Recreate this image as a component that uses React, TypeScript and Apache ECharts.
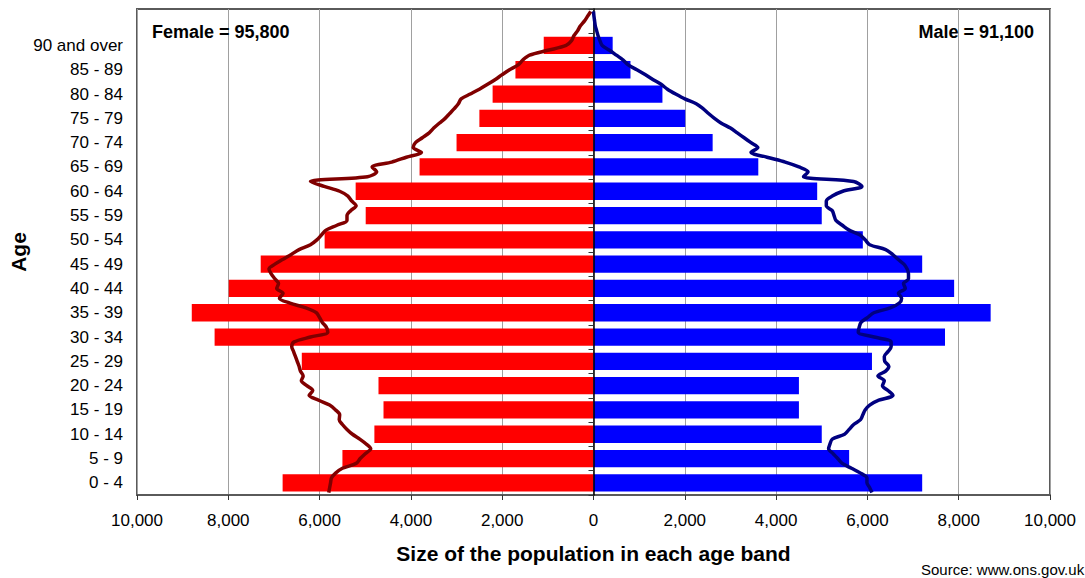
import React, { useEffect, useRef } from "react";
import * as echarts from "echarts";

// Age bands, bottom to top (the top category is an empty spacer row)
const ageBands = [
  "0 - 4", "5 - 9", "10 - 14", "15 - 19", "20 - 24", "25 - 29", "30 - 34",
  "35 - 39", "40 - 44", "45 - 49", "50 - 54", "55 - 59", "60 - 64", "65 - 69",
  "70 - 74", "75 - 79", "80 - 84", "85 - 89", "90 and over", "",
];

// Local population by 5-year band (bottom to top)
const femaleBars = [6810, 5500, 4800, 4600, 4710, 6390, 8300, 8800, 7990, 7290, 5890, 4990, 5210, 3810, 3000, 2500, 2210, 1710, 1090];
const maleBars = [7200, 5600, 5000, 4500, 4500, 6100, 7700, 8700, 7900, 7200, 5900, 5000, 4900, 3610, 2610, 2010, 1510, 810, 420];

// Comparison profile by single year of age 0..99 (female shown on the left)
const femaleLine = [
  -5800, -5780, -5760, -5740, -5650, -5500, -5200, -5110, -5000, -4880,
  -4980, -5120, -5280, -5400, -5500, -5570, -5560, -5650, -5780, -6020,
  -6230, -6150, -6280, -6400, -6360, -6420, -6450, -6490, -6530, -6570,
  -6610, -6560, -6200, -5820, -5850, -5940, -6000, -6070, -6300, -6650,
  -6880, -6800, -6940, -6900, -6980, -7060, -7110, -6980, -6800, -6620,
  -6450, -6200, -6060, -5960, -5860, -5620, -5400, -5400, -5320, -5200,
  -5300, -5380, -5560, -5900, -6200, -4950, -4750, -4850, -4420, -4100,
  -3770, -3950, -3900, -3750, -3600, -3500, -3380, -3250, -3150, -3050,
  -2960, -2900, -2700, -2500, -2320, -2150, -2000, -1840, -1650, -1550,
  -1400, -1000, -600, -480, -430, -350, -290, -200, -130, -60,
];
const maleLine = [
  6100, 6050, 5990, 5990, 5850, 5650, 5450, 5350, 5250, 5150,
  5180, 5230, 5500, 5600, 5700, 5850, 5900, 5950, 6050, 6250,
  6560, 6450, 6330, 6370, 6230, 6400, 6470, 6380, 6370, 6450,
  6520, 6520, 6150, 5800, 5820, 5860, 6000, 6140, 6500, 6700,
  6750, 6680, 6830, 6790, 6900, 6900, 6870, 6800, 6670, 6550,
  6400, 6050, 5950, 5840, 5600, 5450, 5310, 5270, 5230, 5100,
  5100, 5230, 5460, 5880, 5700, 4600, 4700, 4500, 4200, 3800,
  3450, 3600, 3450, 3300, 3150, 3000, 2800, 2650, 2520, 2400,
  2250, 2000, 1800, 1620, 1480, 1300, 1130, 950, 760, 650,
  500, 350, 190, 140, 100, 70, 40, 25, 10, 0,
];

const xTicks = { min: -10000, max: 10000, interval: 2000 };
const femaleTotal = "Female = 95,800";
const maleTotal = "Male = 91,100";
const sourceText = "Source: www.ons.gov.uk";

const FONT = "'Liberation Sans', Arial, Helvetica, sans-serif";

export default function App() {
  const ref = useRef<HTMLDivElement>(null);

  useEffect(() => {
    if (!ref.current) return;
    const chart = echarts.init(ref.current, undefined, { renderer: "svg" });
    const singleAges = femaleLine.map((_, i) => String(i));

    chart.setOption({
      animation: false,
      backgroundColor: "#ffffff",
      textStyle: { fontFamily: FONT },
      grid: {
        left: 137,
        right: 35,
        top: 9,
        bottom: 83,
        containLabel: false,
        outerBoundsMode: "none",
        show: true,
        borderColor: "#5a5a5a",
        borderWidth: 2,
        backgroundColor: "#ffffff",
      },
      xAxis: {
        type: "value",
        min: xTicks.min,
        max: xTicks.max,
        interval: xTicks.interval,
        axisLine: { show: true, onZero: false, lineStyle: { color: "#5a5a5a", width: 2 } },
        axisTick: { show: true, length: 5, lineStyle: { color: "#333" } },
        axisLabel: {
          fontSize: 17,
          color: "#000",
          fontFamily: FONT,
          margin: 17,
          formatter: (v: number) => Math.abs(v).toLocaleString("en-US"),
        },
        splitLine: { show: true, lineStyle: { color: "#a0a0a0", width: 1 } },
        name: "Size of the population in each age band",
        nameLocation: "middle",
        nameGap: 48,
        nameMoveOverlap: false,
        nameTextStyle: { fontSize: 21, fontWeight: "bold", color: "#000", fontFamily: FONT },
      },
      yAxis: [
        {
          type: "category",
          position: "left",
          data: ageBands,
          axisLine: { show: false, onZero: false },
          axisTick: { show: false },
          axisLabel: { fontSize: 17, color: "#000", margin: 14, fontFamily: FONT },
          name: "Age",
          nameLocation: "middle",
          nameGap: 108,
          nameRotate: 90,
          nameMoveOverlap: false,
          nameTextStyle: { fontSize: 21, fontWeight: "bold", color: "#000", fontFamily: FONT },
        },
        {
          type: "category",
          position: "left",
          data: ageBands,
          z: 5,
          axisLine: { show: true, onZero: true, lineStyle: { color: "#000", width: 1.5 } },
          axisTick: { show: true, length: 5, lineStyle: { color: "#333" } },
          axisLabel: { show: false },
        },
        {
          type: "category",
          data: singleAges,
          show: false,
        },
      ],
      series: [
        {
          name: "Female",
          type: "bar",
          yAxisIndex: 0,
          stack: "pop",
          data: femaleBars.map((v) => -v),
          itemStyle: { color: "#ff0000" },
          barCategoryGap: "29%",
          z: 2,
        },
        {
          name: "Male",
          type: "bar",
          yAxisIndex: 0,
          stack: "pop",
          data: maleBars,
          itemStyle: { color: "#0000ff" },
          barCategoryGap: "29%",
          z: 2,
        },
        {
          name: "Female profile",
          type: "line",
          yAxisIndex: 2,
          data: femaleLine,
          showSymbol: false,
          smooth: 0.3,
          lineStyle: { color: "#800000", width: 3.5 },
          z: 6,
        },
        {
          name: "Male profile",
          type: "line",
          yAxisIndex: 2,
          data: maleLine,
          showSymbol: false,
          smooth: 0.3,
          lineStyle: { color: "#000080", width: 3.5 },
          z: 6,
        },
      ],
      graphic: [
        {
          type: "text",
          left: 152,
          top: 23,
          style: { text: femaleTotal, fontSize: 18, fontWeight: "bold", fill: "#000", fontFamily: FONT },
          z: 10,
        },
        {
          type: "text",
          right: 51,
          top: 23,
          style: { text: maleTotal, fontSize: 18, fontWeight: "bold", fill: "#000", fontFamily: FONT },
          z: 10,
        },
        {
          type: "text",
          left: 921,
          top: 562,
          style: { text: sourceText, fontSize: 15, fill: "#000", fontFamily: FONT },
          z: 10,
        },
      ],
    });

    return () => chart.dispose();
  }, []);

  return (
    <div
      ref={ref}
      style={{ position: "fixed", left: 0, top: 0, width: 1085, height: 578, background: "#fff" }}
    />
  );
}
